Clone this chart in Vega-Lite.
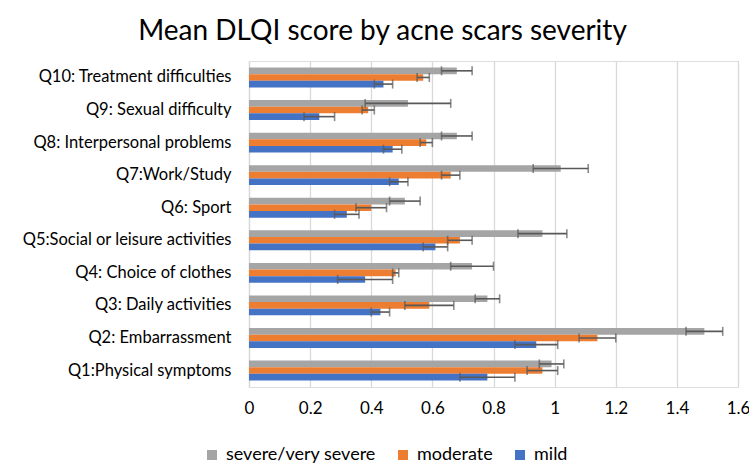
{
  "$schema": "https://vega.github.io/schema/vega-lite/v6.json",
  "autosize": "none",
  "width": 489,
  "height": 326,
  "padding": {"left": 249, "top": 61, "right": 11, "bottom": 82},
  "background": "white",
  "title": {"text": "Mean DLQI score by acne scars severity", "font": "Lato", "fontSize": 28, "fontWeight": "normal", "color": "#000000", "anchor": "middle", "frame": "group", "dx": -111, "offset": 15},
  "data": {"values": [
    {"q": "Q10: Treatment difficulties", "sev": "severe/very severe", "mean": 0.68, "lo": 0.63, "hi": 0.73},
    {"q": "Q10: Treatment difficulties", "sev": "moderate", "mean": 0.57, "lo": 0.55, "hi": 0.59},
    {"q": "Q10: Treatment difficulties", "sev": "mild", "mean": 0.44, "lo": 0.41, "hi": 0.47},
    {"q": "Q9: Sexual difficulty", "sev": "severe/very severe", "mean": 0.52, "lo": 0.38, "hi": 0.66},
    {"q": "Q9: Sexual difficulty", "sev": "moderate", "mean": 0.39, "lo": 0.37, "hi": 0.41},
    {"q": "Q9: Sexual difficulty", "sev": "mild", "mean": 0.23, "lo": 0.18, "hi": 0.28},
    {"q": "Q8: Interpersonal problems", "sev": "severe/very severe", "mean": 0.68, "lo": 0.63, "hi": 0.73},
    {"q": "Q8: Interpersonal problems", "sev": "moderate", "mean": 0.58, "lo": 0.56, "hi": 0.60},
    {"q": "Q8: Interpersonal problems", "sev": "mild", "mean": 0.47, "lo": 0.44, "hi": 0.50},
    {"q": "Q7:Work/Study", "sev": "severe/very severe", "mean": 1.02, "lo": 0.93, "hi": 1.11},
    {"q": "Q7:Work/Study", "sev": "moderate", "mean": 0.66, "lo": 0.63, "hi": 0.69},
    {"q": "Q7:Work/Study", "sev": "mild", "mean": 0.49, "lo": 0.46, "hi": 0.52},
    {"q": "Q6: Sport", "sev": "severe/very severe", "mean": 0.51, "lo": 0.46, "hi": 0.56},
    {"q": "Q6: Sport", "sev": "moderate", "mean": 0.40, "lo": 0.35, "hi": 0.45},
    {"q": "Q6: Sport", "sev": "mild", "mean": 0.32, "lo": 0.28, "hi": 0.36},
    {"q": "Q5:Social or leisure activities", "sev": "severe/very severe", "mean": 0.96, "lo": 0.88, "hi": 1.04},
    {"q": "Q5:Social or leisure activities", "sev": "moderate", "mean": 0.69, "lo": 0.65, "hi": 0.73},
    {"q": "Q5:Social or leisure activities", "sev": "mild", "mean": 0.61, "lo": 0.57, "hi": 0.65},
    {"q": "Q4: Choice of clothes", "sev": "severe/very severe", "mean": 0.73, "lo": 0.66, "hi": 0.80},
    {"q": "Q4: Choice of clothes", "sev": "moderate", "mean": 0.48, "lo": 0.47, "hi": 0.49},
    {"q": "Q4: Choice of clothes", "sev": "mild", "mean": 0.38, "lo": 0.29, "hi": 0.47},
    {"q": "Q3: Daily activities", "sev": "severe/very severe", "mean": 0.78, "lo": 0.74, "hi": 0.82},
    {"q": "Q3: Daily activities", "sev": "moderate", "mean": 0.59, "lo": 0.51, "hi": 0.67},
    {"q": "Q3: Daily activities", "sev": "mild", "mean": 0.43, "lo": 0.40, "hi": 0.46},
    {"q": "Q2: Embarrassment", "sev": "severe/very severe", "mean": 1.49, "lo": 1.43, "hi": 1.55},
    {"q": "Q2: Embarrassment", "sev": "moderate", "mean": 1.14, "lo": 1.08, "hi": 1.20},
    {"q": "Q2: Embarrassment", "sev": "mild", "mean": 0.94, "lo": 0.87, "hi": 1.01},
    {"q": "Q1:Physical symptoms", "sev": "severe/very severe", "mean": 0.99, "lo": 0.95, "hi": 1.03},
    {"q": "Q1:Physical symptoms", "sev": "moderate", "mean": 0.96, "lo": 0.91, "hi": 1.01},
    {"q": "Q1:Physical symptoms", "sev": "mild", "mean": 0.78, "lo": 0.69, "hi": 0.87}
  ]},
  "encoding": {
    "y": {"field": "q", "type": "nominal", "sort": null, "title": null,
      "scale": {"paddingInner": 0.39, "paddingOuter": 0.2},
      "axis": {"ticks": false, "domain": true, "domainColor": "#D9D9D9", "domainWidth": 1.3, "labelFont": "Lato", "labelFontSize": 16.5, "labelColor": "#000000", "labelPadding": 18, "labelLimit": 400}},
    "yOffset": {"field": "sev", "type": "nominal", "scale": {"domain": ["severe/very severe", "moderate", "mild"], "paddingInner": 0, "paddingOuter": 0}}
  },
  "layer": [
    {
      "mark": {"type": "bar"},
      "encoding": {
        "x": {"field": "mean", "type": "quantitative", "title": null,
          "scale": {"domain": [0, 1.6], "nice": false},
          "axis": {"values": [0, 0.2, 0.4, 0.6, 0.8, 1, 1.2, 1.4, 1.6], "format": "~g", "grid": true, "gridColor": "#D9D9D9", "gridWidth": 1.3, "domain": false, "ticks": false, "labelFont": "Lato", "labelFontSize": 17, "labelColor": "#000000", "labelPadding": 13, "labelFlush": false}},
        "color": {"field": "sev", "type": "nominal", "title": null,
          "scale": {"domain": ["severe/very severe", "moderate", "mild"], "range": ["#A5A5A5", "#ED7D31", "#4472C4"]},
          "legend": {"orient": "none", "direction": "horizontal", "legendX": -46, "legendY": 385, "symbolType": "square", "symbolSize": 100, "symbolStrokeWidth": 0, "labelFont": "Lato", "labelFontSize": 18, "labelColor": "#000000", "columnPadding": 18, "labelOffset": 5}}
      }
    },
    {
      "mark": {"type": "rule", "color": "#595959", "strokeWidth": 1.6},
      "encoding": {"x": {"field": "lo", "type": "quantitative"}, "x2": {"field": "hi"}}
    },
    {
      "mark": {"type": "tick", "color": "#595959", "thickness": 1.6, "size": 9, "orient": "vertical"},
      "encoding": {"x": {"field": "lo", "type": "quantitative"}}
    },
    {
      "mark": {"type": "tick", "color": "#595959", "thickness": 1.6, "size": 9, "orient": "vertical"},
      "encoding": {"x": {"field": "hi", "type": "quantitative"}}
    }
  ]
}
